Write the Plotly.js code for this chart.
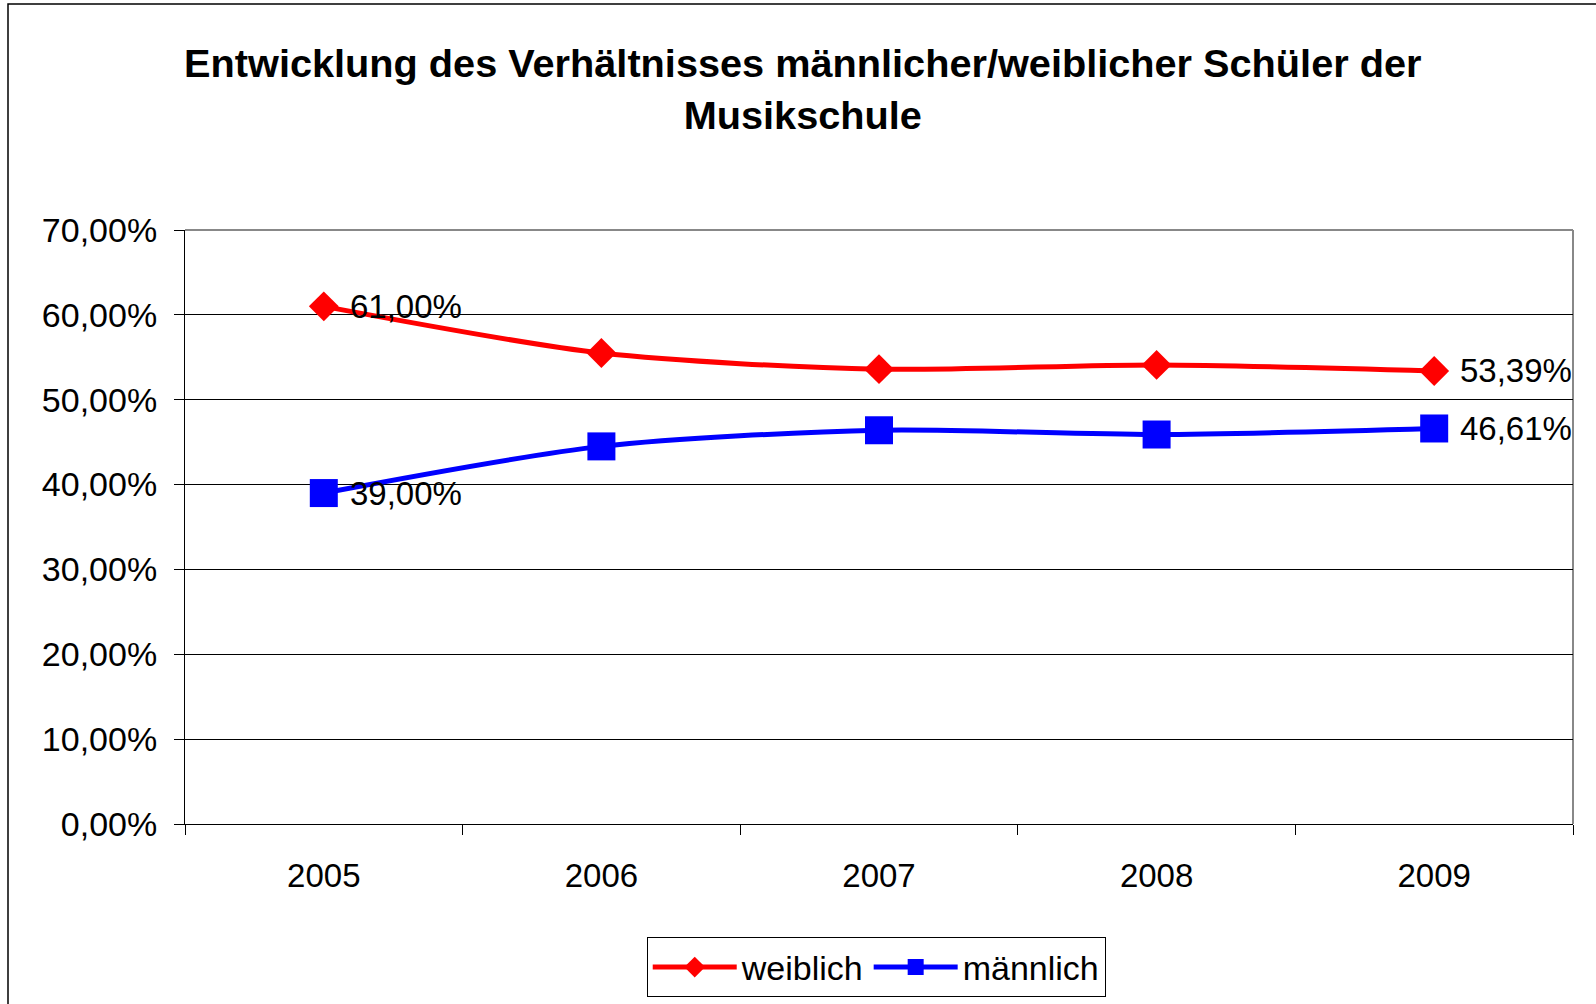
<!DOCTYPE html>
<html>
<head>
<meta charset="utf-8">
<script src="https://cdn.plot.ly/plotly-3.0.1.min.js"></script>
<style>
html,body{margin:0;padding:0;background:#fff;}
#chart{width:1596px;height:1004px;}
</style>
</head>
<body>
<div id="chart"></div>
<script>
const years = ['2005', '2006', '2007', '2008', '2009'];
const weiblich = [61.00, 55.5, 53.6, 54.1, 53.39];
const maennlich = [39.00, 44.5, 46.4, 45.9, 46.61];
const yTicks = [0, 10, 20, 30, 40, 50, 60, 70];
const yTickLabels = ['0,00%', '10,00%', '20,00%', '30,00%', '40,00%', '50,00%', '60,00%', '70,00%'];
const titleText = 'Entwicklung des Verhältnisses männlicher/weiblicher Schüler der<br>Musikschule';

const FONT = '"Liberation Sans", Arial, sans-serif';
function fmt(v){ return v.toFixed(2).replace('.', ',') + '%'; }

const traces = [
  {
    x: years, y: weiblich, name: 'weiblich', type: 'scatter', mode: 'lines+markers',
    line: {color: '#FF0000', width: 5, shape: 'spline', smoothing: 0.8},
    marker: {symbol: 'diamond', size: 23, color: '#FF0000'}
  },
  {
    x: years, y: maennlich, name: 'männlich', type: 'scatter', mode: 'lines+markers',
    line: {color: '#0000FF', width: 5, shape: 'spline', smoothing: 0.8},
    marker: {symbol: 'square', size: 28, color: '#0000FF'}
  }
];

const labelIdx = [0, years.length - 1];
const annotations = [];
[weiblich, maennlich].forEach(series => {
  labelIdx.forEach(i => {
    annotations.push({
      x: i, y: series[i], xref: 'x', yref: 'y',
      text: fmt(series[i]), showarrow: false,
      xanchor: 'left', yanchor: 'middle', xshift: 24,
      font: {family: FONT, size: 33, color: '#000'}
    });
  });
});

const layout = {
  width: 1596, height: 1004,
  paper_bgcolor: '#fff', plot_bgcolor: '#fff',
  margin: {l: 185, r: 23, t: 230, b: 180, autoexpand: false},
  showlegend: true,
  title: {
    text: titleText,
    font: {family: FONT, size: 39.7, color: '#000', weight: 'bold'},
    x: 0.503, xanchor: 'center', y: 0.923, yanchor: 'top'
  },
  xaxis: {
    type: 'category', range: [-0.5, 4.5],
    tickson: 'boundaries', ticks: 'outside', ticklen: 10, tickcolor: '#000', tickwidth: 1,
    ticklabelstandoff: 22,
    showgrid: false, showline: true, linecolor: '#000', linewidth: 1,
    tickfont: {family: FONT, size: 33, color: '#000'},
    zeroline: false, fixedrange: true
  },
  yaxis: {
    range: [0, 70], tickvals: yTicks, ticktext: yTickLabels,
    ticks: 'outside', ticklen: 10, tickcolor: '#000', tickwidth: 1,
    ticklabelstandoff: 10,
    showgrid: true, gridcolor: '#000', gridwidth: 1,
    showline: true, linecolor: '#000', linewidth: 1,
    tickfont: {family: FONT, size: 34, color: '#000'},
    zeroline: false, fixedrange: true
  },
  legend: {
    orientation: 'h', x: 0.498, xanchor: 'center', y: -0.191, yanchor: 'top',
    bordercolor: '#000', borderwidth: 1, bgcolor: '#fff',
    font: {family: FONT, size: 34, color: '#000'},
    itemwidth: 84, tracegroupgap: 0
  },
  annotations: annotations,
  shapes: [
    {type: 'line', xref: 'paper', yref: 'paper', x0: 0, x1: 1, y0: 1, y1: 1,
     line: {color: '#888', width: 2}, layer: 'below'},
    {type: 'line', xref: 'paper', yref: 'paper', x0: 1, x1: 1, y0: 0, y1: 1,
     line: {color: '#888', width: 2}, layer: 'below'},
    {type: 'rect', xref: 'paper', yref: 'paper',
     x0: (8 - 185) / 1388, x1: (1610 - 185) / 1388,
     y0: (824 - 1020) / 594, y1: 1 + (230 - 4) / 594,
     line: {color: '#000', width: 1.5}, fillcolor: 'rgba(0,0,0,0)', layer: 'below'}
  ]
};

Plotly.newPlot('chart', traces, layout, {displayModeBar: false, staticPlot: true});
</script>
</body>
</html>
